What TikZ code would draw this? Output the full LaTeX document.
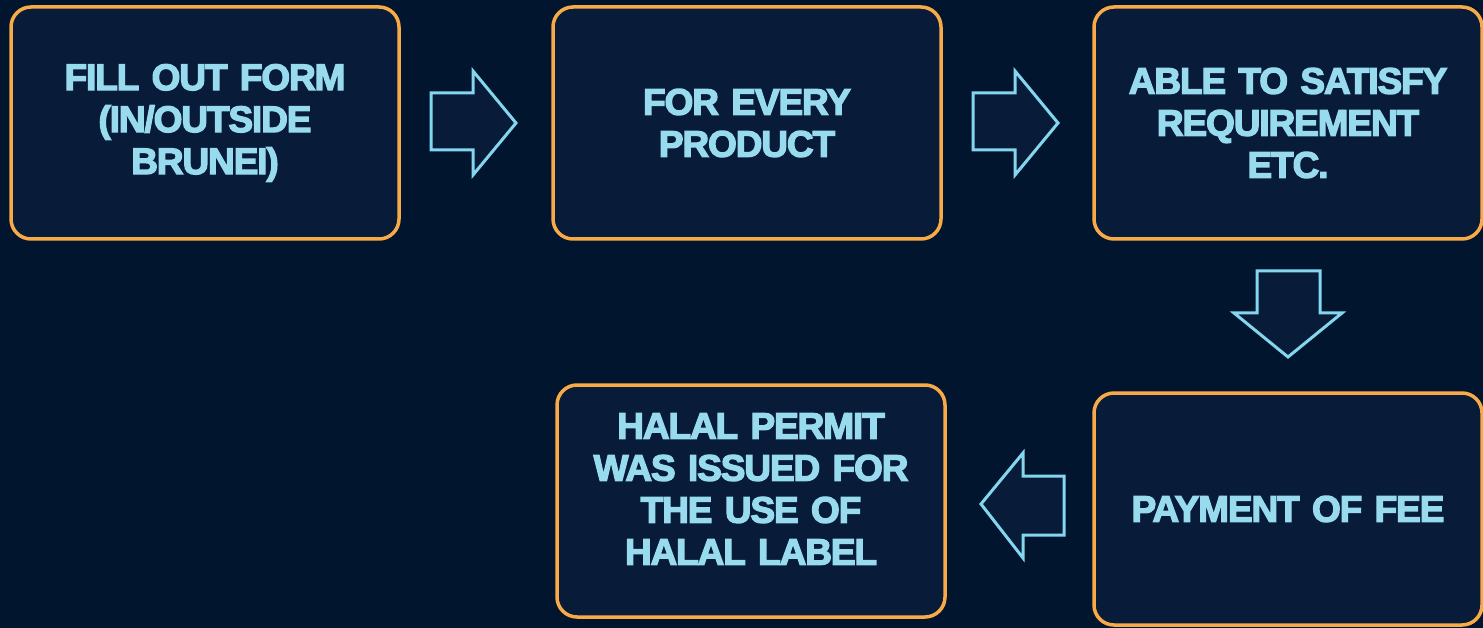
\documentclass[tikz,border=0pt]{standalone}
\usepackage{fontspec}
\setmainfont{Liberation Sans}
\newfontfamily\glowfont[FakeBold=3.5,LetterSpace=-3,WordSpace=0.8]{Liberation Sans Bold}
\definecolor{bg}{HTML}{02152F}
\definecolor{boxfill}{HTML}{081C3A}
\definecolor{boxedge}{HTML}{F7AA45}
\definecolor{arrowedge}{HTML}{84D6EE}
\definecolor{txtfill}{HTML}{98DAEE}
\tikzset{
  stepbox/.style={draw=boxedge, line width=3.5pt, fill=boxfill, rounded corners=20pt,
    minimum width=388pt, minimum height=232pt, inner sep=0pt,
    align=center, text width=370pt, text=txtfill,
    font=\fontsize{37}{42}\glowfont},
  blockarrow/.style={draw=arrowedge, line width=3pt, fill=boxfill, line join=miter}
}
\begin{document}
\begin{tikzpicture}[x=1pt,y=-1pt]
\fill[bg] (0,0) rectangle (1483,628);
\useasboundingbox (0,0) rectangle (1483,628);
\node[stepbox] (b1) at (205,123) {FILL OUT FORM\\(IN/OUTSIDE\\BRUNEI)};
\node[stepbox] (b2) at (747,123) {FOR EVERY\\PRODUCT};
\node[stepbox] (b3) at (1288,123) {ABLE TO SATISFY\\REQUIREMENT\\ETC.};
\node[stepbox] (b4) at (751,501) {HALAL PERMIT\\WAS ISSUED FOR\\THE USE OF\\HALAL LABEL\rule[-24pt]{0pt}{1pt}};
\node[stepbox] (b5) at (1288,509) {PAYMENT OF FEE};
% right arrow 1
\draw[blockarrow] (431,93) -- (473,93) -- (473,71) -- (516,123) -- (473,175) -- (473,150) -- (431,150) -- cycle;
% right arrow 2
\draw[blockarrow] (973,93) -- (1015,93) -- (1015,71) -- (1058,123) -- (1015,175) -- (1015,150) -- (973,150) -- cycle;
% down arrow
\draw[blockarrow] (1257,271) -- (1320,271) -- (1320,313) -- (1342,313) -- (1288,357) -- (1234,313) -- (1257,313) -- cycle;
% left arrow
\draw[blockarrow] (1064,476) -- (1023,476) -- (1023,453) -- (981,504) -- (1023,558) -- (1023,535) -- (1064,535) -- cycle;
\end{tikzpicture}
\end{document}
